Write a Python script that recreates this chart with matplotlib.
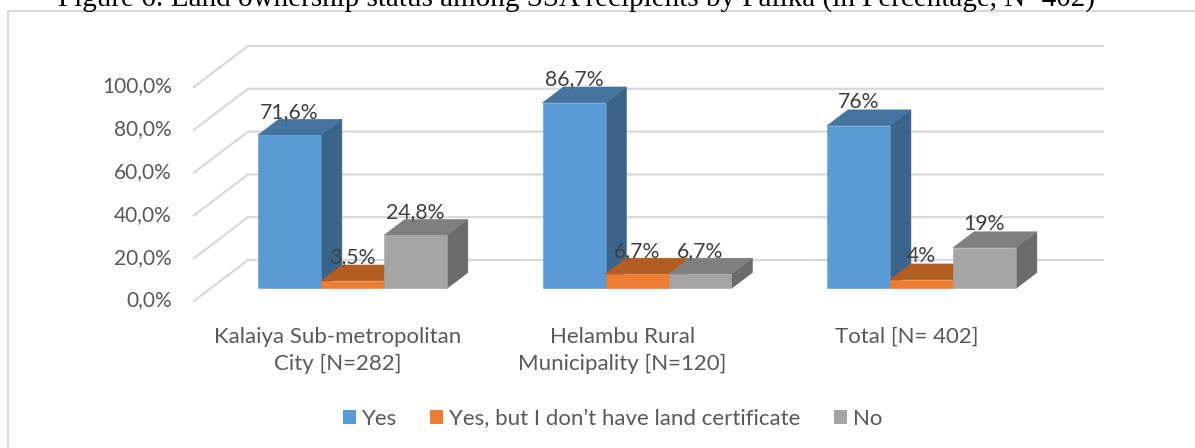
import numpy as np
import matplotlib
matplotlib.use("Agg")
import matplotlib.pyplot as plt
from matplotlib.patches import Polygon, Patch
from matplotlib.lines import Line2D

# data
categories = ["Kalaiya Sub-metropolitan\nCity [N=282]",
              "Helambu Rural\nMunicipality [N=120]",
              "Total [N= 402]"]
series = ["Yes", "Yes, but I don\u2019t have land certificate", "No"]
yes_vals = [71.6, 86.7, 76]
cert_vals = [3.5, 6.7, 4]
no_vals = [24.8, 6.7, 19]
yticks = [0, 20, 40, 60, 80, 100]

# front / top / side shades per series
face_cols = [("#5b9bd5", "#4674a1", "#3a6489"),
             ("#ed7d31", "#b35d22", "#9e521e"),
             ("#a5a5a5", "#7f7f7f", "#6b6b6b")]

W, H = 1195, 448
fig = plt.figure(figsize=(W / 100, H / 100), dpi=100)
ax = fig.add_axes([0, 0, 1, 1])
ax.set_xlim(-1.177, 3.023)
ax.set_ylim(-68.36, 140.98)
ax.axis("off")

# oblique projection: depth d in [0,1] shifts up and right
DX, DY = 0.1933, 19.49
D0, D1 = 0.32, 0.70           # bar depth span
BW = 0.2214                   # bar width in category units
XL, XR = -0.4986, 2.51        # floor extent

def proj(x, v, d):
    return (x + DX * d, v + DY * d)

GRID = "#d9d9d9"
TXT = "#595959"

# side wall and back wall gridlines
for t in yticks:
    p0 = proj(XL, t, 0)
    p1 = proj(XL, t, 1)
    p2 = proj(XR, t, 1)
    ax.plot([p0[0], p1[0], p2[0]], [p0[1], p1[1], p2[1]],
            color=GRID, lw=1.6, solid_capstyle="butt", zorder=1)
    ax.text(p0[0] - 0.074, p0[1] + 0.6, f"{t:.1f}%".replace(".", ","),
            ha="right", va="center", fontsize=15, color=TXT,
            family="Lato")

def fmt(v):
    if float(v).is_integer():
        return f"{int(v)}%"
    return f"{v:.1f}%".replace(".", ",")

def bar3d(x0, v, cols, z):
    x1 = x0 + BW
    front = [proj(x0, 0, D0), proj(x1, 0, D0), proj(x1, v, D0), proj(x0, v, D0)]
    top = [proj(x0, v, D0), proj(x1, v, D0), proj(x1, v, D1), proj(x0, v, D1)]
    side = [proj(x1, 0, D0), proj(x1, 0, D1), proj(x1, v, D1), proj(x1, v, D0)]
    for pts, c in ((side, cols[2]), (top, cols[1]), (front, cols[0])):
        ax.add_patch(Polygon(pts, closed=True, facecolor=c, edgecolor=c,
                             lw=0.4, zorder=z))

z = 2
for i in range(len(categories)):
    vals = [yes_vals[i], cert_vals[i], no_vals[i]]
    for j, v in enumerate(vals):
        x0 = i + (j - 1.5) * BW
        bar3d(x0, v, face_cols[j], z)
        z += 1

# value labels above the back edge of each top face
for i in range(len(categories)):
    vals = [yes_vals[i], cert_vals[i], no_vals[i]]
    for j, v in enumerate(vals):
        xc = i + (j - 1.0) * BW
        px, py = proj(xc, v, D1)
        ax.text(xc + DX * D0, py + 0.7, fmt(v), ha="center", va="baseline",
                fontsize=15.3, color="#404040", family="Lato", zorder=50)

# category labels along the front edge of the floor
for i, c in enumerate(categories):
    ax.text(i + 0.01, -11.8, c, ha="center", va="top", fontsize=16,
            color=TXT, family="Lato", linespacing=1.45)

# legend
handles = [Patch(facecolor=face_cols[k][0], edgecolor="none") for k in range(3)]
leg = fig.legend(handles, series, loc="center", bbox_to_anchor=(0.5127, 0.0647),
                 ncol=3, frameon=False, prop={"family": "Lato", "size": 16},
                 handlelength=0.58, handleheight=0.58, handletextpad=0.27,
                 columnspacing=1.5, borderpad=0, borderaxespad=0)
for t in leg.get_texts():
    t.set_color(TXT)

# chart-area frame (left and top edges visible)
fig.add_artist(Line2D([8 / W, 8 / W], [0, 1 - 10.7 / H], transform=fig.transFigure,
                      color=GRID, lw=1.6))
fig.add_artist(Line2D([8 / W, 1], [1 - 10.7 / H, 1 - 10.7 / H],
                      transform=fig.transFigure, color=GRID, lw=1.6))

# caption, partly cut by the top edge
fig.text(576 / W, 1 - 6 / H,
         "Figure 6: Land ownership status among SSA recipients by Palika (in Percentage, N=402)",
         ha="center", va="baseline", fontsize=21, family="Liberation Serif",
         color="black")

fig.savefig("out.png", dpi=100)
